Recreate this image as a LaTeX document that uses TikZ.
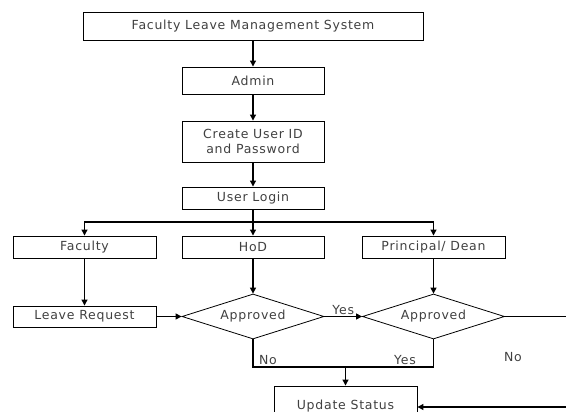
\documentclass[tikz,border=0pt]{standalone}
\usepackage{fontspec}
\setmainfont[LetterSpace=6]{DejaVu Sans}
\usetikzlibrary{arrows.meta,shapes.geometric}
\definecolor{txt}{HTML}{404040}
\begin{document}
\begin{tikzpicture}[x=1pt,y=-1pt,
  every node/.style={font=\fontsize{12.5}{14.5}\selectfont, text=txt},
  box/.style={draw, line width=0.9pt, minimum width=142pt, inner sep=0pt, align=center},
  dia/.style={draw, diamond, aspect=3.15, line width=0.8pt, minimum width=142pt, minimum height=45pt, inner sep=0pt},
  lbl/.style={inner sep=0pt},
  arr/.style={line width=1.2pt, -{Triangle[length=6pt,width=6pt]}},
  ln/.style={line width=1.2pt}]
\useasboundingbox (0,0) rectangle (566,412);
\clip (0,0) rectangle (566,412);
\node[box, minimum width=340pt, minimum height=28pt] (title) at (253,26) {Faculty Leave Management System};
\node[box, minimum height=27pt] (admin) at (253,80.5) {Admin};
\node[box, minimum height=41pt] (create) at (253,141.5) {Create User ID\\and Password};
\node[box, minimum height=22pt] (login) at (253,198) {User Login};
\node[box, minimum width=143pt, minimum height=22pt] (faculty) at (84.5,247) {Faculty};
\node[box, minimum height=22pt] (hod) at (253,247) {HoD};
\node[box, minimum width=143pt, minimum height=22pt] (principal) at (433.5,247) {Principal/ Dean};
\node[box, minimum width=143pt, minimum height=21pt] (leave) at (84.5,316.5) {Leave Request};
\node[dia] (d1) at (253,316.5) {Approved};
\node[dia] (d2) at (433.5,316.5) {Approved};
\node[box, minimum width=143pt, minimum height=40pt] (update) at (345.5,406) {Update Status};
\coordinate (br) at (253,222);
\coordinate (m) at (345.5,367);
\coordinate (r1) at (580,316.5);
\coordinate (r2) at (580,407);
\draw[arr] (title) -- (admin);
\draw[arr] (admin) -- (create);
\draw[arr] (create) -- (login);
\draw[arr] (login) -- (hod);
\draw[arr] (br) -| (faculty.north);
\draw[arr] (br) -| (principal.north);
\draw[arr] (faculty) -- (leave);
\draw[arr] (hod) -- (d1);
\draw[arr] (principal) -- (d2);
\draw[arr] (leave) -- (d1);
\draw[arr] (d1) -- node[lbl, above, yshift=1pt] {Yes} (d2);
\draw[ln] (d1.south) |- (m) -| (d2.south);
\draw[arr] (m) -- (update);
\draw[ln] (d2.east) -- (r1) -- (r2);
\draw[arr] (r2) -- (update.east |- r2);
\node[lbl] (no1) at (268,360) {No};
\node[lbl] (yes2) at (405,360) {Yes};
\node[lbl] (no2) at (513,357) {No};
\end{tikzpicture}
\end{document}
